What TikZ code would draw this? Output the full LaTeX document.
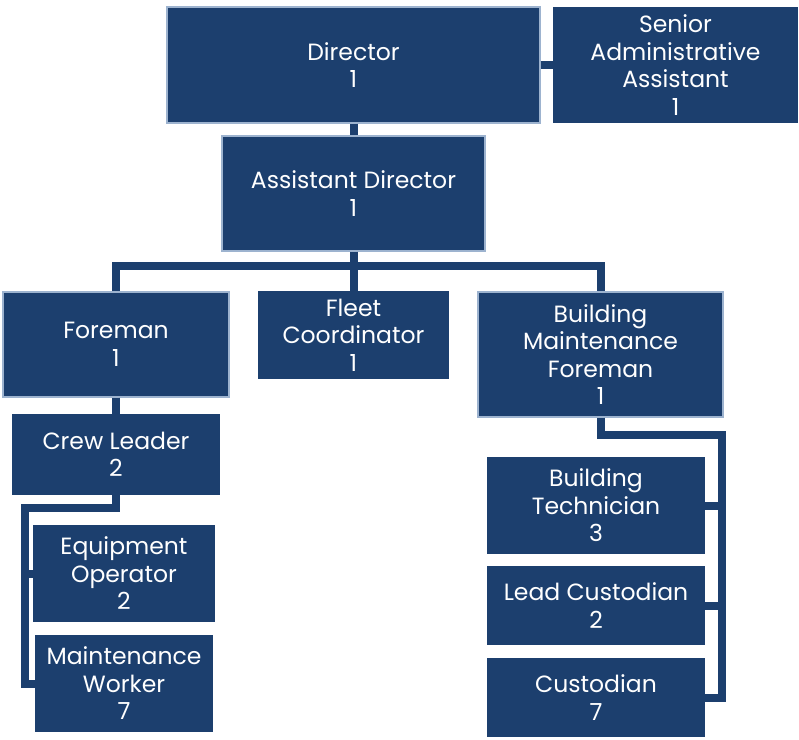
\documentclass[tikz,border=0pt]{standalone}
\usepackage{fontspec}
\setmainfont{Poppins}
\definecolor{navy}{HTML}{1C3F6E}
\definecolor{rim}{HTML}{9DB3CF}
\tikzset{
  box/.style={rectangle, fill=navy, text=white, align=center, inner sep=0pt,
    font=\fontsize{23.5}{27.5}\selectfont},
  rimbox/.style={box, draw=rim, line width=1.2pt},
  link/.style={draw=navy, line width=8pt, line join=miter}
}
\begin{document}
\begin{tikzpicture}[x=1pt,y=-1pt]
\useasboundingbox (0,0) rectangle (799,739);
\fill[white] (0,0) rectangle (799,739);
\coordinate (lb) at (25,508);
\coordinate (rb) at (722,435);
\node[rimbox, minimum width=373pt, minimum height=116pt] (dir) at (353.5,65) {Director\\1};
\node[box, minimum width=245pt, minimum height=116pt] (sen) at (675.5,65) {Senior\\Administrative\\Assistant\\1};
\node[rimbox, minimum width=263pt, minimum height=115pt] (ad) at (353.5,193.5) {Assistant Director\\1};
\node[rimbox, minimum width=226pt, minimum height=105pt] (fore) at (116,344.5) {Foreman\\1};
\node[box, minimum width=191pt, minimum height=88pt] (fleet) at (353.5,335) {Fleet\\Coordinator\\1};
\node[rimbox, minimum width=245pt, minimum height=125pt] (bmf) at (600.5,354.5) {Building\\Maintenance\\Foreman\\1};
\node[box, minimum width=208pt, minimum height=81pt] (cl) at (116,454.5) {Crew Leader\\2};
\node[box, minimum width=182pt, minimum height=97pt] (eo) at (124,573.5) {Equipment\\Operator\\2};
\node[box, minimum width=178pt, minimum height=97pt] (mw) at (124,683.5) {Maintenance\\Worker\\7};
\node[box, minimum width=218pt, minimum height=97pt] (bt) at (596,505.5) {Building\\Technician\\3};
\node[box, minimum width=218pt, minimum height=79pt] (lc) at (596,605.5) {Lead Custodian\\2};
\node[box, minimum width=218pt, minimum height=79pt] (cu) at (596,697.5) {Custodian\\7};
\draw[link] (dir.east) -- (sen.west);
\draw[link] (dir.south) -- (ad.north);
\draw[link] (ad.south) -- (fleet.north);
\draw[link] (fore.north) -- ++(0,-25) -| (bmf.north);
\draw[link] (fore.south) -- (cl.north);
\draw[link] (cl.south) |- (lb) |- (mw.west);
\draw[link] (lb |- eo.west) -- (eo.west);
\draw[link] (bmf.south) |- (rb) |- (cu.east);
\draw[link] (rb |- bt.east) -- (bt.east);
\draw[link] (rb |- lc.east) -- (lc.east);
\end{tikzpicture}
\end{document}
